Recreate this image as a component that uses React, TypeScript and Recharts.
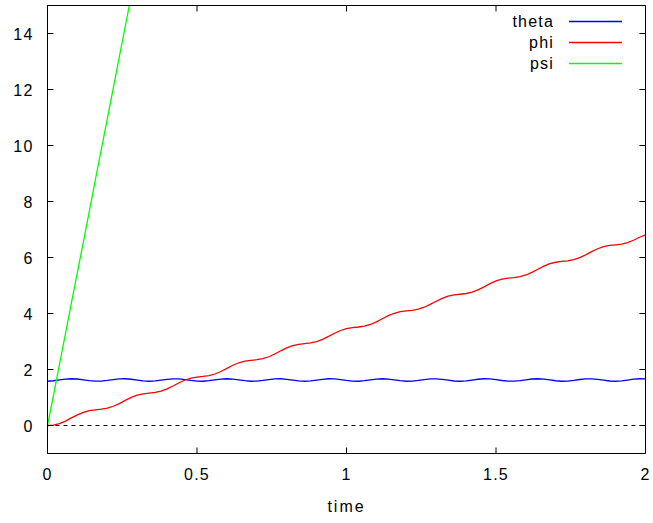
import React from 'react';
import { LineChart, Line, XAxis, YAxis, ReferenceLine } from 'recharts';

const time = [
  0, 0.02, 0.04, 0.06, 0.08, 0.1, 0.12, 0.14, 0.16, 0.18,
  0.2, 0.22, 0.24, 0.26, 0.28, 0.3, 0.32, 0.34, 0.36, 0.38,
  0.4, 0.42, 0.44, 0.46, 0.48, 0.5, 0.52, 0.54, 0.56, 0.58,
  0.6, 0.62, 0.64, 0.66, 0.68, 0.7, 0.72, 0.74, 0.76, 0.78,
  0.8, 0.82, 0.84, 0.86, 0.88, 0.9, 0.92, 0.94, 0.96, 0.98,
  1, 1.02, 1.04, 1.06, 1.08, 1.1, 1.12, 1.14, 1.16, 1.18,
  1.2, 1.22, 1.24, 1.26, 1.28, 1.3, 1.32, 1.34, 1.36, 1.38,
  1.4, 1.42, 1.44, 1.46, 1.48, 1.5, 1.52, 1.54, 1.56, 1.58,
  1.6, 1.62, 1.64, 1.66, 1.68, 1.7, 1.72, 1.74, 1.76, 1.78,
  1.8, 1.82, 1.84, 1.86, 1.88, 1.9, 1.92, 1.94, 1.96, 1.98,
  2,
];

const theta = [
  1.581, 1.598, 1.629, 1.657, 1.67, 1.66, 1.632, 1.601, 1.582, 1.585,
  1.608, 1.64, 1.664, 1.669, 1.652, 1.621, 1.592, 1.58, 1.591, 1.619,
  1.65, 1.668, 1.665, 1.642, 1.61, 1.585, 1.581, 1.599, 1.63, 1.658,
  1.67, 1.659, 1.631, 1.6, 1.581, 1.585, 1.609, 1.641, 1.665, 1.669,
  1.651, 1.62, 1.591, 1.58, 1.591, 1.62, 1.651, 1.669, 1.665, 1.641,
  1.609, 1.585, 1.581, 1.6, 1.631, 1.659, 1.67, 1.658, 1.63, 1.599,
  1.581, 1.586, 1.61, 1.642, 1.665, 1.668, 1.65, 1.618, 1.59, 1.58,
  1.592, 1.621, 1.652, 1.669, 1.664, 1.639, 1.607, 1.584, 1.582, 1.601,
  1.632, 1.66, 1.67, 1.657, 1.628, 1.598, 1.581, 1.586, 1.611, 1.643,
  1.666, 1.668, 1.648, 1.617, 1.59, 1.58, 1.593, 1.622, 1.653, 1.669,
  1.663,
];

const phi = [
  0, 0.01, 0.071, 0.159, 0.27, 0.381, 0.472, 0.531, 0.561, 0.584,
  0.62, 0.687, 0.784, 0.898, 1.005, 1.085, 1.132, 1.157, 1.182, 1.228,
  1.306, 1.412, 1.526, 1.625, 1.693, 1.731, 1.753, 1.783, 1.839, 1.929,
  2.04, 2.151, 2.241, 2.297, 2.327, 2.349, 2.387, 2.455, 2.554, 2.668,
  2.774, 2.852, 2.898, 2.923, 2.948, 2.995, 3.075, 3.182, 3.296, 3.393,
  3.46, 3.496, 3.518, 3.549, 3.608, 3.699, 3.811, 3.921, 4.009, 4.064,
  4.093, 4.115, 4.154, 4.224, 4.325, 4.439, 4.543, 4.62, 4.664, 4.688,
  4.714, 4.763, 4.845, 4.953, 5.066, 5.162, 5.227, 5.262, 5.284, 5.316,
  5.376, 5.469, 5.581, 5.691, 5.777, 5.83, 5.858, 5.881, 5.921, 5.994,
  6.095, 6.21, 6.313, 6.387, 6.43, 6.453, 6.48, 6.531, 6.615, 6.723,
  6.81,
];

// psi leaves the plot near t = 0.28, so only the first points matter
const psi = [
  0, 1.08, 2.18, 3.27, 4.38, 5.47, 6.56, 7.66, 8.77, 9.86,
  10.95, 12.05, 13.16, 14.25, 15.35, 16.44,
];

const xTicks = [0, 0.5, 1, 1.5, 2];
const yTicks = [0, 2, 4, 6, 8, 10, 12, 14];
const xDomain = [0, 2];
const yDomain = [-1, 15];

const series = [
  { key: 'theta', color: '#0000ff' },
  { key: 'phi', color: '#ff0000' },
  { key: 'psi', color: '#00ff00' },
];

const data = time.map((t, i) => ({
  t,
  theta: theta[i],
  phi: phi[i],
  psi: i < psi.length ? psi[i] : null,
}));

const FONT = '"Liberation Sans", Arial, sans-serif';
const TICK = 6;
const textStyle = { fontSize: 16, fontFamily: FONT, fill: '#000', letterSpacing: 1.2 };
const lineStyle = { stroke: '#000', strokeWidth: 1 };

// tickSize is negative so ticks point inward; the label props sit at the inner tick end
const BottomTick = (props: any) => {
  const { x, y, payload } = props;
  return (
    <text x={x} y={y + TICK + 26} textAnchor='middle' style={textStyle}>
      {payload.value}
    </text>
  );
};

const LeftTick = (props: any) => {
  const { x, y, payload } = props;
  return (
    <text x={x - TICK - 14} y={y + 6} textAnchor='end' style={textStyle}>
      {payload.value}
    </text>
  );
};

const NoLabel = () => null;

const LegendBox = () => (
  <div style={{ position: 'absolute', left: 460, top: 0 }}>
    <svg width={180} height={80}>
      {series.map((s, i) => (
        <g key={s.key}>
          <text x={94} y={27 + i * 21} textAnchor='end' style={textStyle}>
            {s.key}
          </text>
          <line x1={109} x2={162} y1={21.5 + i * 21} y2={21.5 + i * 21} stroke={s.color} strokeWidth={1.3} />
        </g>
      ))}
    </svg>
  </div>
);

// frame edges sit on half pixels (47.5, 645.5, 5.5, 453.5) so the 1px lines stay crisp
export default function App() {
  return (
    <div style={{ position: 'absolute', left: 0, top: 0, width: 653, height: 523, fontFamily: FONT }}>
      <LineChart
        width={653}
        height={523}
        data={data}
        margin={{ top: 0, right: 0, bottom: 0, left: 7.5 }}
      >
        <XAxis
          dataKey='t'
          type='number'
          domain={xDomain}
          ticks={xTicks}
          height={69.5}
          tickSize={-TICK}
          tickMargin={0}
          tickLine={lineStyle}
          axisLine={lineStyle}
          tick={<BottomTick />}
          label={{
            value: 'time',
            position: 'insideBottom',
            offset: 11,
            fill: '#000',
            fontSize: 16,
            fontFamily: FONT,
            letterSpacing: 2,
          }}
        />
        <XAxis
          xAxisId='top'
          orientation='top'
          dataKey='t'
          type='number'
          domain={xDomain}
          ticks={xTicks}
          height={5.5}
          tickSize={-TICK}
          tickMargin={0}
          tickLine={lineStyle}
          axisLine={lineStyle}
          tick={<NoLabel />}
        />
        <YAxis
          type='number'
          domain={yDomain}
          ticks={yTicks}
          width={40}
          tickSize={-TICK}
          tickMargin={0}
          tickLine={lineStyle}
          axisLine={lineStyle}
          tick={<LeftTick />}
          allowDataOverflow
        />
        <YAxis
          yAxisId='right'
          orientation='right'
          type='number'
          domain={yDomain}
          ticks={yTicks}
          width={7.5}
          tickSize={-TICK}
          tickMargin={0}
          tickLine={lineStyle}
          axisLine={lineStyle}
          tick={<NoLabel />}
          allowDataOverflow
        />
        <ReferenceLine y={0} stroke='#000' strokeDasharray='4 4' strokeWidth={1} />
        {series.map((s) => (
          <Line
            key={s.key}
            dataKey={s.key}
            type='linear'
            stroke={s.color}
            strokeWidth={1.3}
            dot={false}
            activeDot={false}
            isAnimationActive={false}
          />
        ))}
      </LineChart>
      <LegendBox />
    </div>
  );
}
